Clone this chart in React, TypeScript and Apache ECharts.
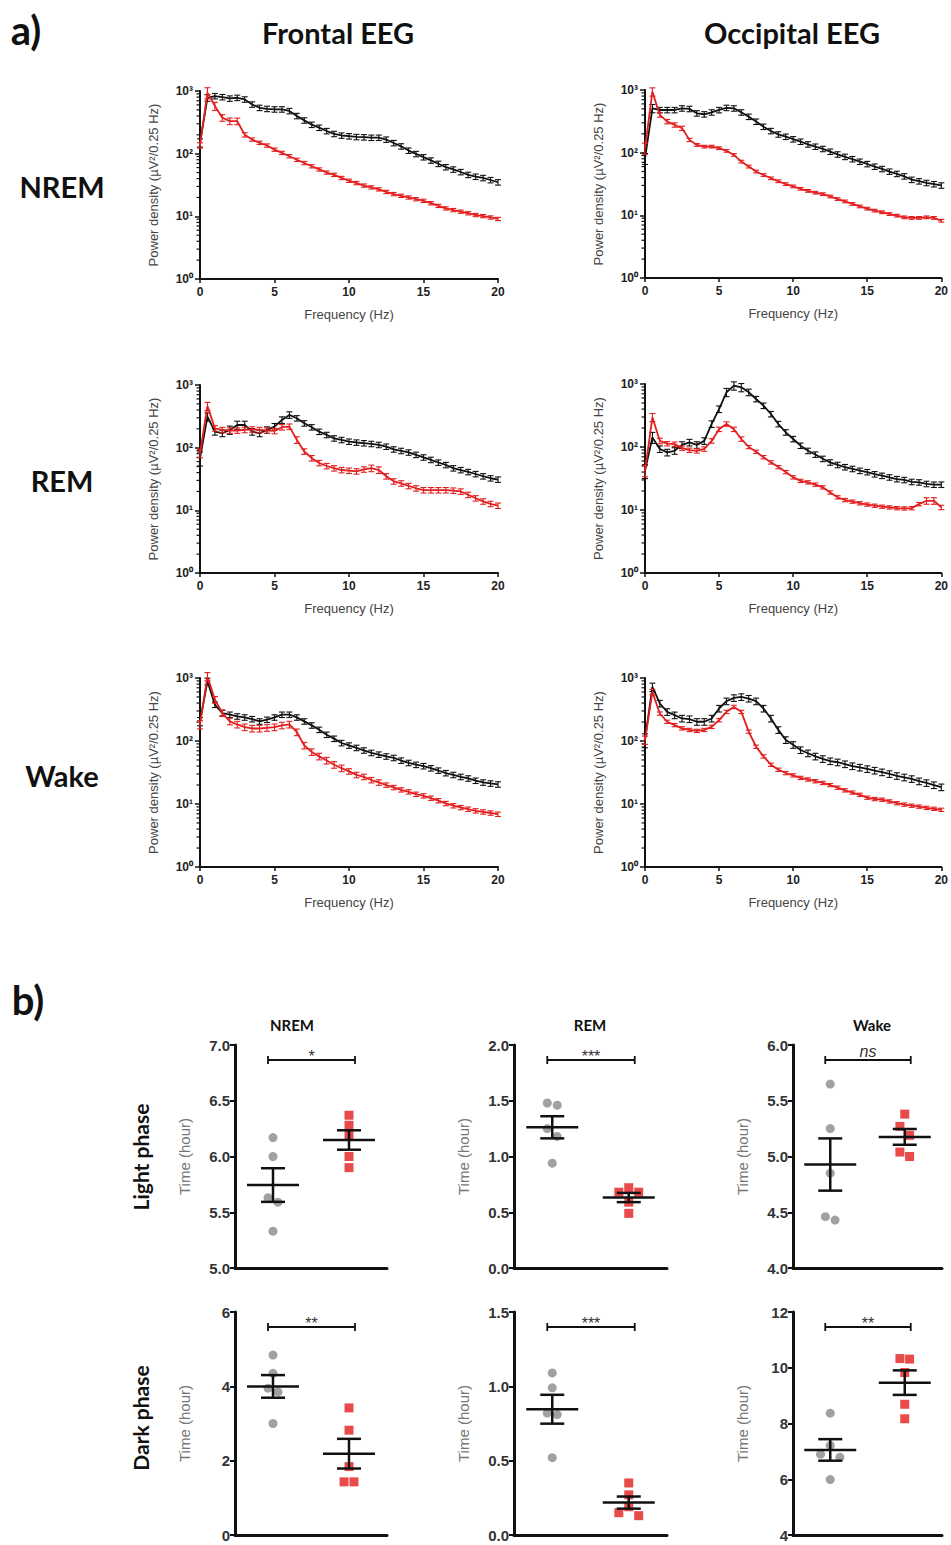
import React, { useEffect, useRef } from "react";
import * as echarts from "echarts";

// ---------------- DATA ----------------
const FREQ_HZ = [0, 0.5, 1, 1.5, 2, 2.5, 3, 3.5, 4, 4.5, 5, 5.5, 6, 6.5, 7, 7.5, 8, 8.5, 9, 9.5, 10, 10.5, 11, 11.5, 12, 12.5, 13, 13.5, 14, 14.5, 15, 15.5, 16, 16.5, 17, 17.5, 18, 18.5, 19, 19.5, 20];

// Frontal NREM
const FRONTAL_NREM_CTRL = [150, 780, 830, 800, 760, 780, 735, 610, 540, 520, 510, 510, 480, 400, 340, 290, 260, 230, 207, 195, 190, 185, 183, 180, 180, 168, 148, 131, 112, 99, 88, 78, 69, 61, 56, 51, 46, 43, 41, 38, 35];
const FRONTAL_NREM_CTRL_SEM = [15, 12, 10, 10, 10, 10, 10, 10, 10, 10, 10, 10, 10, 10, 10, 10, 10, 10, 10, 10, 10, 10, 10, 10, 10, 10, 10, 10, 10, 10, 10, 10, 10, 10, 10, 10, 10, 10, 10, 10, 10];
const FRONTAL_NREM_KO = [136, 940, 575, 374, 330, 330, 200, 168, 149, 135, 116, 103, 91, 80, 71, 63, 56, 50, 46, 41, 37, 34, 31, 29, 27, 24.5, 22.7, 21.3, 20, 18.8, 17.7, 16.2, 14.7, 13.4, 12.6, 11.9, 11.2, 10.5, 10.1, 9.6, 9.1];
const FRONTAL_NREM_KO_SEM = [10, 20, 15, 12, 12, 12, 8, 6, 6, 6, 6, 6, 6, 6, 6, 6, 6, 6, 6, 6, 6, 6, 6, 6, 6, 6, 6, 6, 6, 6, 6, 6, 6, 6, 6, 6, 6, 6, 6, 6, 6];

// Occipital NREM
const OCCIPITAL_NREM_CTRL = [81, 510, 480, 480, 480, 510, 500, 425, 410, 440, 480, 520, 510, 440, 375, 313, 260, 222, 196, 180, 164, 150, 136, 125, 115, 104, 94, 86, 79, 72, 66, 60, 55, 50, 46, 42, 37, 35, 33, 31.5, 30];
const OCCIPITAL_NREM_CTRL_SEM = [20, 15, 10, 10, 10, 10, 10, 10, 10, 10, 10, 10, 10, 10, 10, 10, 10, 10, 10, 10, 10, 10, 10, 10, 10, 10, 10, 10, 10, 10, 10, 10, 10, 10, 10, 10, 10, 10, 10, 10, 10];
const OCCIPITAL_NREM_KO = [118, 940, 400, 313, 277, 245, 160, 133, 125, 125, 118, 107, 92, 72, 60, 50, 44, 39, 35, 31.5, 29, 26.5, 24.6, 23, 21.8, 20, 18.2, 16.7, 15.2, 13.9, 12.8, 11.9, 11.2, 10.5, 9.9, 9.3, 9.1, 9.1, 9.3, 9.1, 8.2];
const OCCIPITAL_NREM_KO_SEM = [20, 15, 8, 8, 8, 8, 6, 5, 5, 5, 5, 5, 5, 5, 5, 5, 5, 5, 5, 5, 5, 5, 5, 5, 5, 5, 5, 5, 5, 5, 5, 5, 5, 5, 5, 5, 5, 5, 5, 5, 5];

// Frontal REM
const FRONTAL_REM_CTRL = [68, 312, 180, 170, 192, 230, 230, 180, 170, 192, 217, 277, 333, 295, 245, 212, 180, 160, 141, 133, 125, 121, 118, 115, 111, 104, 94, 89, 84, 77, 70, 64, 58, 53, 47, 44, 41, 38, 35, 32.5, 31];
const FRONTAL_REM_CTRL_SEM = [25, 15, 12, 12, 15, 15, 15, 12, 12, 12, 12, 12, 12, 10, 10, 10, 10, 10, 10, 10, 10, 10, 10, 10, 10, 10, 10, 10, 10, 10, 10, 10, 10, 10, 10, 10, 10, 10, 10, 10, 10];
const FRONTAL_REM_KO = [81, 460, 204, 192, 188, 188, 192, 196, 192, 188, 185, 212, 217, 133, 87, 68, 57, 51, 47, 44, 43, 42, 45, 47, 44, 35, 29, 27, 24.5, 22.5, 21, 21, 21, 21, 20.7, 20, 17.7, 15.6, 13.9, 12.7, 11.9];
const FRONTAL_REM_KO_SEM = [15, 15, 10, 10, 10, 10, 10, 10, 10, 10, 10, 10, 10, 12, 10, 10, 10, 10, 10, 10, 10, 10, 10, 12, 12, 10, 10, 10, 10, 10, 10, 10, 10, 10, 10, 10, 10, 10, 10, 10, 10];

// Occipital REM
const OCCIPITAL_REM_CTRL = [42, 142, 93, 82, 87, 108, 118, 108, 125, 232, 400, 740, 940, 885, 740, 578, 453, 334, 232, 171, 134, 105, 87, 76, 65, 57, 52, 48, 45, 42, 40, 37, 35, 33, 31, 30, 28, 27.5, 26, 25.3, 25.3];
const OCCIPITAL_REM_CTRL_SEM = [25, 20, 12, 12, 12, 12, 12, 12, 12, 12, 12, 15, 15, 15, 12, 10, 10, 10, 10, 10, 10, 10, 10, 10, 10, 10, 10, 10, 10, 10, 10, 10, 10, 10, 10, 10, 10, 10, 10, 10, 10];
const OCCIPITAL_REM_KO = [42, 296, 125, 113, 111, 96, 89, 87, 93, 125, 191, 232, 191, 134, 100, 84, 69, 57, 48, 40, 33, 29, 27.5, 25.3, 22.9, 19, 15.9, 14.4, 13.6, 12.8, 12.2, 11.7, 11.3, 11, 10.7, 10.6, 10.7, 12.4, 14, 14, 11];
const OCCIPITAL_REM_KO_SEM = [20, 15, 10, 8, 8, 8, 8, 8, 8, 8, 8, 8, 8, 8, 6, 6, 6, 6, 6, 6, 6, 6, 6, 6, 6, 6, 6, 6, 6, 6, 6, 6, 6, 6, 6, 6, 6, 6, 12, 12, 8];

// Frontal Wake
const FRONTAL_WAKE_CTRL = [205, 885, 377, 278, 262, 246, 237, 223, 205, 218, 237, 262, 262, 237, 205, 177, 151, 126, 109, 93, 85, 78, 71, 65, 61, 57, 54, 49, 45, 42, 40, 37, 34, 31, 29, 27, 25.5, 23.5, 22, 21.2, 20.5];
const FRONTAL_WAKE_CTRL_SEM = [15, 12, 10, 10, 10, 10, 10, 10, 10, 10, 10, 10, 10, 10, 10, 10, 10, 10, 10, 10, 10, 10, 10, 10, 10, 10, 10, 10, 10, 10, 10, 10, 10, 10, 10, 10, 10, 10, 10, 10, 10];
const FRONTAL_WAKE_KO = [183, 1060, 453, 278, 205, 183, 166, 158, 158, 162, 166, 177, 183, 138, 85, 67, 57, 49, 42, 37, 33, 29, 27, 24, 22, 20, 18.3, 16.8, 15.6, 14.3, 13.5, 12.4, 11.3, 10.2, 9.4, 8.8, 8.3, 7.8, 7.5, 7.2, 6.9];
const FRONTAL_WAKE_KO_SEM = [15, 15, 12, 12, 12, 12, 12, 12, 12, 12, 12, 12, 12, 12, 12, 12, 12, 12, 12, 12, 10, 10, 10, 10, 10, 8, 8, 8, 8, 8, 8, 8, 8, 8, 8, 8, 8, 8, 8, 8, 8];

// Occipital Wake
const OCCIPITAL_WAKE_CTRL = [104, 720, 394, 290, 257, 228, 223, 202, 202, 228, 328, 428, 483, 500, 472, 428, 328, 228, 150, 104, 87, 72, 64, 57, 52, 48, 46, 43, 40, 38, 36, 34, 32, 30, 28, 26.5, 25, 23, 21.6, 20, 18.5];
const OCCIPITAL_WAKE_CTRL_SEM = [25, 15, 12, 12, 12, 12, 12, 12, 12, 12, 12, 12, 12, 12, 12, 12, 12, 12, 12, 12, 12, 12, 12, 12, 12, 12, 12, 12, 12, 12, 12, 12, 12, 12, 12, 12, 12, 12, 12, 12, 12];
const OCCIPITAL_WAKE_KO = [104, 600, 273, 202, 179, 159, 150, 145, 150, 168, 214, 290, 348, 290, 141, 81, 57, 42, 35, 31, 28.5, 26, 24.5, 23, 21.6, 20, 18.2, 16.5, 15.2, 14, 12.6, 12, 11.7, 11, 10.3, 9.8, 9.4, 9.1, 8.7, 8.4, 8.1];
const OCCIPITAL_WAKE_KO_SEM = [15, 10, 6, 6, 6, 6, 6, 6, 6, 6, 6, 6, 6, 6, 6, 6, 6, 6, 6, 6, 6, 6, 6, 6, 6, 6, 6, 6, 6, 6, 6, 6, 6, 6, 6, 6, 6, 6, 6, 6, 6];

// Panel b: time in state (hours), 5 animals per group
const NREM_LIGHT_CTRL = [6.17, 6.0, 5.63, 5.59, 5.33];
const NREM_LIGHT_KO = [6.37, 6.28, 6.19, 6.0, 5.9];
const REM_LIGHT_CTRL = [1.48, 1.46, 1.25, 1.18, 0.94];
const REM_LIGHT_KO = [0.72, 0.68, 0.68, 0.59, 0.49];
const WAKE_LIGHT_CTRL = [5.65, 5.25, 4.85, 4.46, 4.43];
const WAKE_LIGHT_KO = [5.38, 5.27, 5.19, 5.04, 5.0];
const NREM_DARK_CTRL = [4.84, 4.35, 3.95, 3.85, 3.0];
const NREM_DARK_KO = [3.42, 2.82, 1.84, 1.43, 1.43];
const REM_DARK_CTRL = [1.09, 0.99, 0.82, 0.81, 0.52];
const REM_DARK_KO = [0.35, 0.27, 0.19, 0.15, 0.13];
const WAKE_DARK_CTRL = [8.37, 7.21, 6.9, 6.79, 5.99];
const WAKE_DARK_KO = [10.33, 10.31, 9.83, 8.69, 8.17];

const SIGNIFICANCE = ["*", "***", "ns", "**", "***", "**"];
const B_TITLES = ["NREM", "REM", "Wake"];
const ROW_LABELS_A = ["NREM", "REM", "Wake"];
const ROW_LABELS_B = ["Light phase", "Dark phase"];
const COLUMN_TITLES_A = ["Frontal EEG", "Occipital EEG"];

// ---------------- STYLE / LAYOUT ----------------
const RED = "#e41e1e";
const BLACK = "#111111";
const GRAY = "#8a8a8a";
const SANS = "'Liberation Sans', Arial, sans-serif";
const HEAD = "Lato, 'Open Sans', sans-serif";
const SUP = ["\u2070", "\u00b9", "\u00b2", "\u00b3"];

const SPEC_PANELS = [
  { ctrl: FRONTAL_NREM_CTRL, ctrlSem: FRONTAL_NREM_CTRL_SEM, ko: FRONTAL_NREM_KO, koSem: FRONTAL_NREM_KO_SEM },
  { ctrl: OCCIPITAL_NREM_CTRL, ctrlSem: OCCIPITAL_NREM_CTRL_SEM, ko: OCCIPITAL_NREM_KO, koSem: OCCIPITAL_NREM_KO_SEM },
  { ctrl: FRONTAL_REM_CTRL, ctrlSem: FRONTAL_REM_CTRL_SEM, ko: FRONTAL_REM_KO, koSem: FRONTAL_REM_KO_SEM },
  { ctrl: OCCIPITAL_REM_CTRL, ctrlSem: OCCIPITAL_REM_CTRL_SEM, ko: OCCIPITAL_REM_KO, koSem: OCCIPITAL_REM_KO_SEM },
  { ctrl: FRONTAL_WAKE_CTRL, ctrlSem: FRONTAL_WAKE_CTRL_SEM, ko: FRONTAL_WAKE_KO, koSem: FRONTAL_WAKE_KO_SEM },
  { ctrl: OCCIPITAL_WAKE_CTRL, ctrlSem: OCCIPITAL_WAKE_CTRL_SEM, ko: OCCIPITAL_WAKE_KO, koSem: OCCIPITAL_WAKE_KO_SEM },
];
const SPEC_LAYOUT = [
  { left: 200, top: 91, width: 298, height: 188 },
  { left: 645, top: 90, width: 298, height: 188 },
  { left: 200, top: 385, width: 298, height: 188 },
  { left: 645, top: 384, width: 298, height: 189 },
  { left: 200, top: 678, width: 298, height: 189 },
  { left: 645, top: 678, width: 298, height: 189 },
];

const B_PANELS = [
  { ctrl: NREM_LIGHT_CTRL, ko: NREM_LIGHT_KO, min: 5, max: 7, step: 0.5, dec: 1 },
  { ctrl: REM_LIGHT_CTRL, ko: REM_LIGHT_KO, min: 0, max: 2, step: 0.5, dec: 1 },
  { ctrl: WAKE_LIGHT_CTRL, ko: WAKE_LIGHT_KO, min: 4, max: 6, step: 0.5, dec: 1 },
  { ctrl: NREM_DARK_CTRL, ko: NREM_DARK_KO, min: 0, max: 6, step: 2, dec: 0 },
  { ctrl: REM_DARK_CTRL, ko: REM_DARK_KO, min: 0, max: 1.5, step: 0.5, dec: 1 },
  { ctrl: WAKE_DARK_CTRL, ko: WAKE_DARK_KO, min: 4, max: 12, step: 2, dec: 0 },
];
const B_LAYOUT = [
  { left: 235, top: 1045, width: 152, height: 223 },
  { left: 514, top: 1045, width: 153, height: 223 },
  { left: 793, top: 1045, width: 149, height: 223 },
  { left: 235, top: 1312, width: 152, height: 223 },
  { left: 514, top: 1312, width: 153, height: 223 },
  { left: 793, top: 1312, width: 149, height: 223 },
];

function logMinorTicks(): number[] {
  const out: number[] = [];
  [1, 10, 100].forEach((d) => {
    for (let m = 2; m <= 9; m++) out.push(m * d);
  });
  return out;
}

function swarmOffsets(vals: number[], thr: number): number[] {
  const idx = vals.map((_, i) => i).sort((a, b) => vals[b] - vals[a]);
  const out = new Array(vals.length).fill(0);
  let cluster: number[] = [];
  const odd = [0, -1, 1, -2, 2, -3, 3];
  const even = [-0.5, 0.5, -1.5, 1.5, -2.5, 2.5];
  const flush = () => {
    const n = cluster.length;
    cluster.forEach((ci, k) => {
      out[ci] = (n % 2 ? odd : even)[k];
    });
    cluster = [];
  };
  idx.forEach((i, k) => {
    if (k > 0 && vals[idx[k - 1]] - vals[i] >= thr) flush();
    cluster.push(i);
  });
  flush();
  return out;
}

function meanSem(vals: number[]) {
  const n = vals.length;
  const mean = vals.reduce((a, b) => a + b, 0) / n;
  const sd = Math.sqrt(vals.reduce((a, b) => a + (b - mean) * (b - mean), 0) / (n - 1));
  return { mean, sem: sd / Math.sqrt(n) };
}

function buildOption() {
  const grid: any[] = [];
  const xAxis: any[] = [];
  const yAxis: any[] = [];
  const series: any[] = [];
  let gi = 0;

  // ---------- panel a ----------
  SPEC_PANELS.forEach((d, i) => {
    const L = SPEC_LAYOUT[i];
    grid.push({ left: L.left, top: L.top, width: L.width, height: L.height });
    xAxis.push({
      type: "value",
      gridIndex: gi,
      min: 0,
      max: 20,
      interval: 5,
      axisLine: { onZero: false, lineStyle: { color: BLACK, width: 2 } },
      axisTick: { length: 4, lineStyle: { color: BLACK, width: 1.5 } },
      splitLine: { show: false },
      axisLabel: { color: "#222", fontSize: 12, fontWeight: "bold", fontFamily: SANS, margin: 7 },
      name: "Frequency (Hz)",
      nameLocation: "middle",
      nameGap: 29,
      nameTextStyle: { color: "#444", fontSize: 13, fontFamily: SANS },
    });
    yAxis.push({
      type: "log",
      logBase: 10,
      gridIndex: gi,
      min: 1,
      max: 1000,
      axisLine: { onZero: false, lineStyle: { color: BLACK, width: 2 } },
      axisTick: { length: 5, lineStyle: { color: BLACK, width: 1.5 } },
      splitLine: { show: false },
      axisLabel: {
        formatter: (v: number) => "10" + SUP[Math.round(Math.log10(v))],
        color: "#222",
        fontSize: 12,
        fontWeight: "bold",
        fontFamily: SANS,
        margin: 7,
      },
      name: "Power density (\u00b5V\u00b2/0.25 Hz)",
      nameLocation: "middle",
      nameGap: 40,
      nameTextStyle: { color: "#444", fontSize: 13, fontFamily: SANS },
    });
    // log minor ticks
    series.push({
      type: "custom",
      xAxisIndex: gi,
      yAxisIndex: gi,
      silent: true,
      data: logMinorTicks().map((v) => [0, v]),
      encode: { x: 0, y: 1 },
      renderItem: (_p: any, api: any) => {
        const c = api.coord([0, api.value(1)]);
        return {
          type: "line",
          shape: { x1: c[0] - 3.5, y1: c[1], x2: c[0], y2: c[1] },
          style: { stroke: BLACK, lineWidth: 1.2 },
        };
      },
      z: 1,
    });
    const curves: [number[], number[], string][] = [
      [d.ctrl, d.ctrlSem, BLACK],
      [d.ko, d.koSem, RED],
    ];
    curves.forEach(([vals, sem, color], ci) => {
      series.push({
        type: "custom",
        xAxisIndex: gi,
        yAxisIndex: gi,
        silent: true,
        data: FREQ_HZ.map((f, k) => [f, vals[k] * (1 - sem[k] / 100), vals[k] * (1 + sem[k] / 100)]),
        encode: { x: 0, y: [1, 2] },
        renderItem: (_p: any, api: any) => {
          const x = api.value(0);
          const lo = api.coord([x, api.value(1)]);
          const hi = api.coord([x, api.value(2)]);
          const w = 3;
          const st = { stroke: color, lineWidth: 1.1 };
          return {
            type: "group",
            children: [
              { type: "line", shape: { x1: lo[0], y1: lo[1], x2: hi[0], y2: hi[1] }, style: st },
              { type: "line", shape: { x1: lo[0] - w, y1: lo[1], x2: lo[0] + w, y2: lo[1] }, style: st },
              { type: "line", shape: { x1: hi[0] - w, y1: hi[1], x2: hi[0] + w, y2: hi[1] }, style: st },
            ],
          };
        },
        z: 3 + ci * 2,
      });
      series.push({
        type: "line",
        xAxisIndex: gi,
        yAxisIndex: gi,
        silent: true,
        data: FREQ_HZ.map((f, k) => [f, vals[k]]),
        showSymbol: false,
        symbol: "none",
        lineStyle: { color, width: 1.8 },
        z: 4 + ci * 2,
      });
    });
    gi++;
  });

  // ---------- panel b ----------
  B_PANELS.forEach((d, i) => {
    const L = B_LAYOUT[i];
    grid.push({ left: L.left, top: L.top, width: L.width, height: L.height });
    xAxis.push({
      type: "value",
      gridIndex: gi,
      min: 0,
      max: 4,
      axisLine: { onZero: false, lineStyle: { color: BLACK, width: 3 } },
      axisTick: { show: false },
      axisLabel: { show: false },
      splitLine: { show: false },
    });
    yAxis.push({
      type: "value",
      gridIndex: gi,
      min: d.min,
      max: d.max,
      interval: d.step,
      axisLine: { onZero: false, lineStyle: { color: BLACK, width: 3 } },
      axisTick: { length: 5, lineStyle: { color: BLACK, width: 2 } },
      splitLine: { show: false },
      axisLabel: {
        formatter: (v: number) => v.toFixed(d.dec),
        color: "#333",
        fontSize: 15,
        fontWeight: "bold",
        fontFamily: SANS,
        margin: 5,
      },
      name: "Time (hour)",
      nameLocation: "middle",
      nameGap: 43,
      nameTextStyle: { color: "#777", fontSize: 15, fontFamily: SANS },
    });
    const thr = ((d.max - d.min) * 9) / 223;
    const groups: [number[], number, string, string][] = [
      [d.ctrl, 1, "circle", GRAY],
      [d.ko, 3, "rect", RED],
    ];
    groups.forEach(([vals, cx, symbol, color]) => {
      const off = swarmOffsets(vals, thr);
      series.push({
        type: "scatter",
        xAxisIndex: gi,
        yAxisIndex: gi,
        silent: true,
        symbol,
        symbolSize: 9,
        itemStyle: { color },
        data: vals.map((v, k) => [cx + off[k] * 0.26, v]),
        z: 2,
      });
      const ms = meanSem(vals);
      series.push({
        type: "custom",
        xAxisIndex: gi,
        yAxisIndex: gi,
        silent: true,
        data: [[cx, ms.mean, ms.sem]],
        encode: { x: 0, y: 1 },
        renderItem: (_p: any, api: any) => {
          const x = api.value(0);
          const m = api.value(1);
          const s = api.value(2);
          const c = api.coord([x, m]);
          const hi = api.coord([x, m + s]);
          const lo = api.coord([x, m - s]);
          const st = { stroke: BLACK, lineWidth: 2.5 };
          return {
            type: "group",
            children: [
              { type: "line", shape: { x1: c[0] - 26, y1: c[1], x2: c[0] + 26, y2: c[1] }, style: st },
              { type: "line", shape: { x1: c[0], y1: hi[1], x2: c[0], y2: lo[1] }, style: st },
              { type: "line", shape: { x1: c[0] - 12, y1: hi[1], x2: c[0] + 12, y2: hi[1] }, style: st },
              { type: "line", shape: { x1: c[0] - 12, y1: lo[1], x2: c[0] + 12, y2: lo[1] }, style: st },
            ],
          };
        },
        z: 5,
      });
    });
    const sig = SIGNIFICANCE[i];
    series.push({
      type: "custom",
      xAxisIndex: gi,
      yAxisIndex: gi,
      silent: true,
      data: [[1, 3, d.max]],
      encode: { x: [0, 1], y: 2 },
      renderItem: (_p: any, api: any) => {
        const a = api.coord([api.value(0), api.value(2)]);
        const b = api.coord([api.value(1), api.value(2)]);
        const y = a[1] + 15;
        const x1 = a[0] - 5;
        const x2 = b[0] + 6;
        const st = { stroke: BLACK, lineWidth: 1.8 };
        const isNs = sig === "ns";
        return {
          type: "group",
          children: [
            { type: "line", shape: { x1, y1: y, x2, y2: y }, style: st },
            { type: "line", shape: { x1, y1: y - 4, x2: x1, y2: y + 4 }, style: st },
            { type: "line", shape: { x1: x2, y1: y - 4, x2, y2: y + 4 }, style: st },
            {
              type: "text",
              x: (x1 + x2) / 2,
              y: isNs ? y - 9 : y - 4,
              style: {
                text: sig,
                fill: "#333",
                font: isNs ? "italic 16px " + SANS : "16px " + SANS,
                textAlign: "center",
                textVerticalAlign: "middle",
                align: "center",
                verticalAlign: "middle",
              },
            },
          ],
        };
      },
      z: 6,
    });
    gi++;
  });

  // ---------- texts ----------
  const txt = (text: string, x: number, y: number, size: number, rotate = 0) => ({
    type: "text",
    x,
    y,
    rotation: rotate,
    silent: true,
    style: {
      text,
      fill: "#111",
      font: `bold ${size}px ${HEAD}`,
      textAlign: "center",
      textVerticalAlign: "middle",
      align: "center",
      verticalAlign: "middle",
    },
  });
  const graphic: any[] = [
    txt("a)", 26, 30, 40),
    txt(COLUMN_TITLES_A[0], 338, 32, 29),
    txt(COLUMN_TITLES_A[1], 792, 32, 29),
    txt(ROW_LABELS_A[0], 62, 186, 29),
    txt(ROW_LABELS_A[1], 62, 480, 29),
    txt(ROW_LABELS_A[2], 62, 775, 29),
    txt("b)", 28, 1000, 40),
    txt(B_TITLES[0], 292, 1025, 15),
    txt(B_TITLES[1], 590, 1025, 15),
    txt(B_TITLES[2], 872, 1025, 15),
    txt(ROW_LABELS_B[0], 140, 1157, 21, Math.PI / 2),
    txt(ROW_LABELS_B[1], 140, 1418, 21, Math.PI / 2),
  ];

  return {
    animation: false,
    backgroundColor: "#ffffff",
    textStyle: { fontFamily: SANS },
    grid,
    xAxis,
    yAxis,
    series,
    graphic,
  };
}

export default function App() {
  const ref = useRef<HTMLDivElement>(null);
  useEffect(() => {
    if (!ref.current) return;
    const chart = echarts.init(ref.current, null, { renderer: "svg" });
    chart.setOption(buildOption() as any);
    return () => chart.dispose();
  }, []);
  return (
    <div
      ref={ref}
      style={{ position: "absolute", left: 0, top: 0, width: 951, height: 1545, background: "#fff" }}
    />
  );
}
